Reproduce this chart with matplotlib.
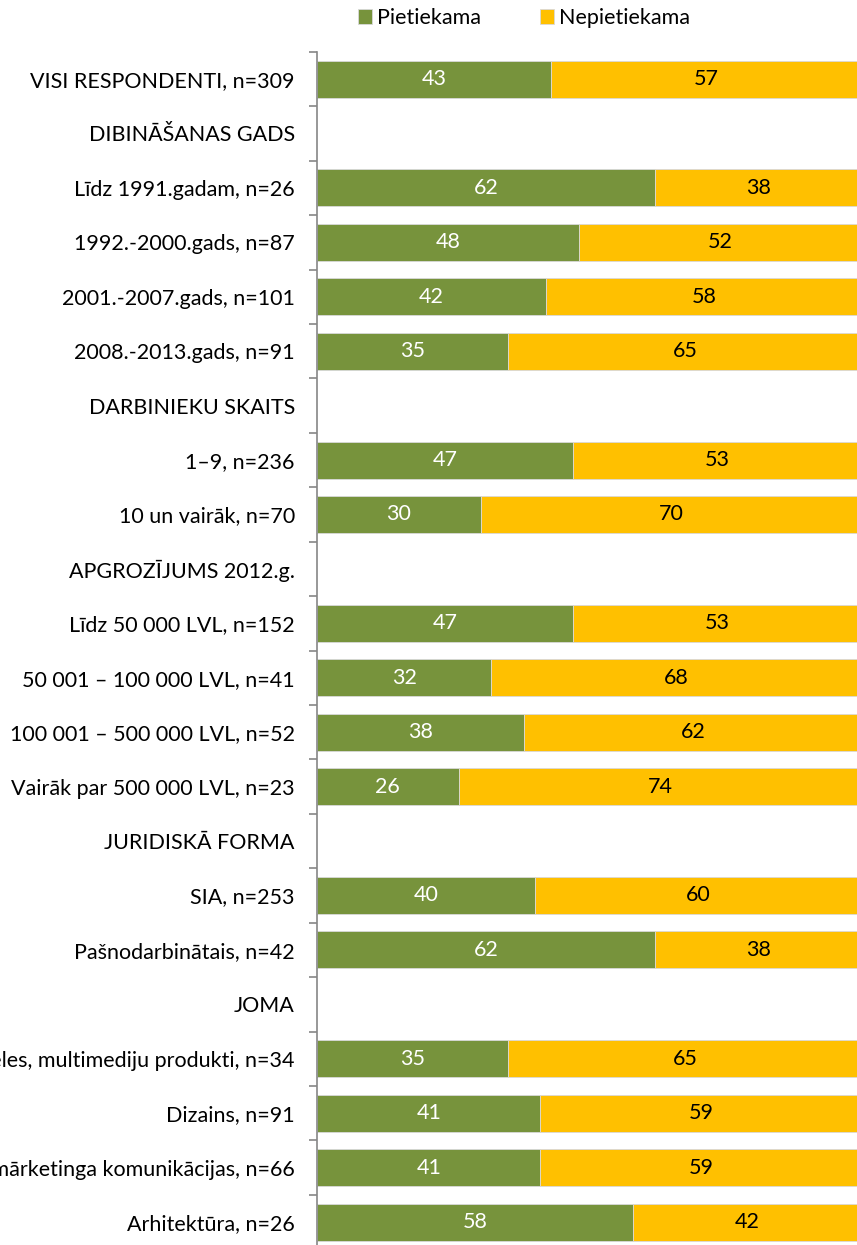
import matplotlib
matplotlib.use("Agg")
import matplotlib.pyplot as plt
import numpy as np

plt.rcParams['font.family'] = ['Lato', 'DejaVu Sans']

categories = [
    "VISI RESPONDENTI, n=309",
    "DIBINĀŠANAS GADS",
    "Līdz 1991.gadam, n=26",
    "1992.-2000.gads, n=87",
    "2001.-2007.gads, n=101",
    "2008.-2013.gads, n=91",
    "DARBINIEKU SKAITS",
    "1–9, n=236",
    "10 un vairāk, n=70",
    "APGROZĪJUMS 2012.g.",
    "Līdz 50 000 LVL, n=152",
    "50 001 – 100 000 LVL, n=41",
    "100 001 – 500 000 LVL, n=52",
    "Vairāk par 500 000 LVL, n=23",
    "JURIDISKĀ FORMA",
    "SIA, n=253",
    "Pašnodarbinātais, n=42",
    "JOMA",
    "Datorspēles, multimediju produkti, n=34",
    "Dizains, n=91",
    "Reklāma, mārketinga komunikācijas, n=66",
    "Arhitektūra, n=26",
]
pietiekama = [43, None, 62, 48, 42, 35, None, 47, 30, None, 47, 32, 38, 26, None, 40, 62, None, 35, 41, 41, 58]
nepietiekama = [57, None, 38, 52, 58, 65, None, 53, 70, None, 53, 68, 62, 74, None, 60, 38, None, 65, 59, 59, 42]
series_names = ["Pietiekama", "Nepietiekama"]

green = "#77933C"
yellow = "#FFC000"
spine_col = "#868686"

W, H = 857, 1245
fig = plt.figure(figsize=(W / 100, H / 100), dpi=100)
n = len(categories)
row_px = 54.43
top_px = 51.8
ax_left = 317 / W
ax_width = 545 / W
ax_top = 1 - top_px / H
ax_h = n * row_px / H
ax = fig.add_axes([ax_left, ax_top - ax_h, ax_width, ax_h])

y = np.arange(n)
p = np.array([np.nan if v is None else v for v in pietiekama], dtype=float)
q = np.array([np.nan if v is None else v for v in nepietiekama], dtype=float)
mask = ~np.isnan(p)

ax.barh(y[mask], p[mask], height=0.68, color=green, edgecolor="#d9d9d9", linewidth=0.6,
        label=series_names[0])
ax.barh(y[mask], q[mask], left=p[mask], height=0.68, color=yellow, edgecolor="#d9d9d9",
        linewidth=0.6, label=series_names[1])

fs = 15.5
for yi, a, b in zip(y[mask], p[mask], q[mask]):
    ax.text(a / 2, yi, f"{int(a)}", ha="center", va="center", color="white", fontsize=fs)
    ax.text(a + b / 2, yi, f"{int(b)}", ha="center", va="center", color="black", fontsize=fs)

ax.set_xlim(0, 100)
ax.set_ylim(n - 0.5, -0.5)
ax.set_yticks(y)
ax.set_yticklabels(categories, fontsize=fs)
ax.tick_params(axis="y", which="major", length=0, pad=16)
ax.set_yticks(np.arange(n + 1) - 0.5, minor=True)
ax.tick_params(axis="y", which="minor", length=6, color=spine_col, width=1.2)
ax.set_xticks([])
for s in ["top", "right", "bottom"]:
    ax.spines[s].set_visible(False)
ax.spines["left"].set_color(spine_col)
ax.spines["left"].set_linewidth(1.2)

leg = fig.legend(loc="center", bbox_to_anchor=(524 / W, 1 - 18 / H), ncol=2, frameon=False,
                 fontsize=fs, handlelength=0.65, handleheight=0.65, handletextpad=0.25,
                 columnspacing=2.7)

fig.savefig("out.png", dpi=100)
